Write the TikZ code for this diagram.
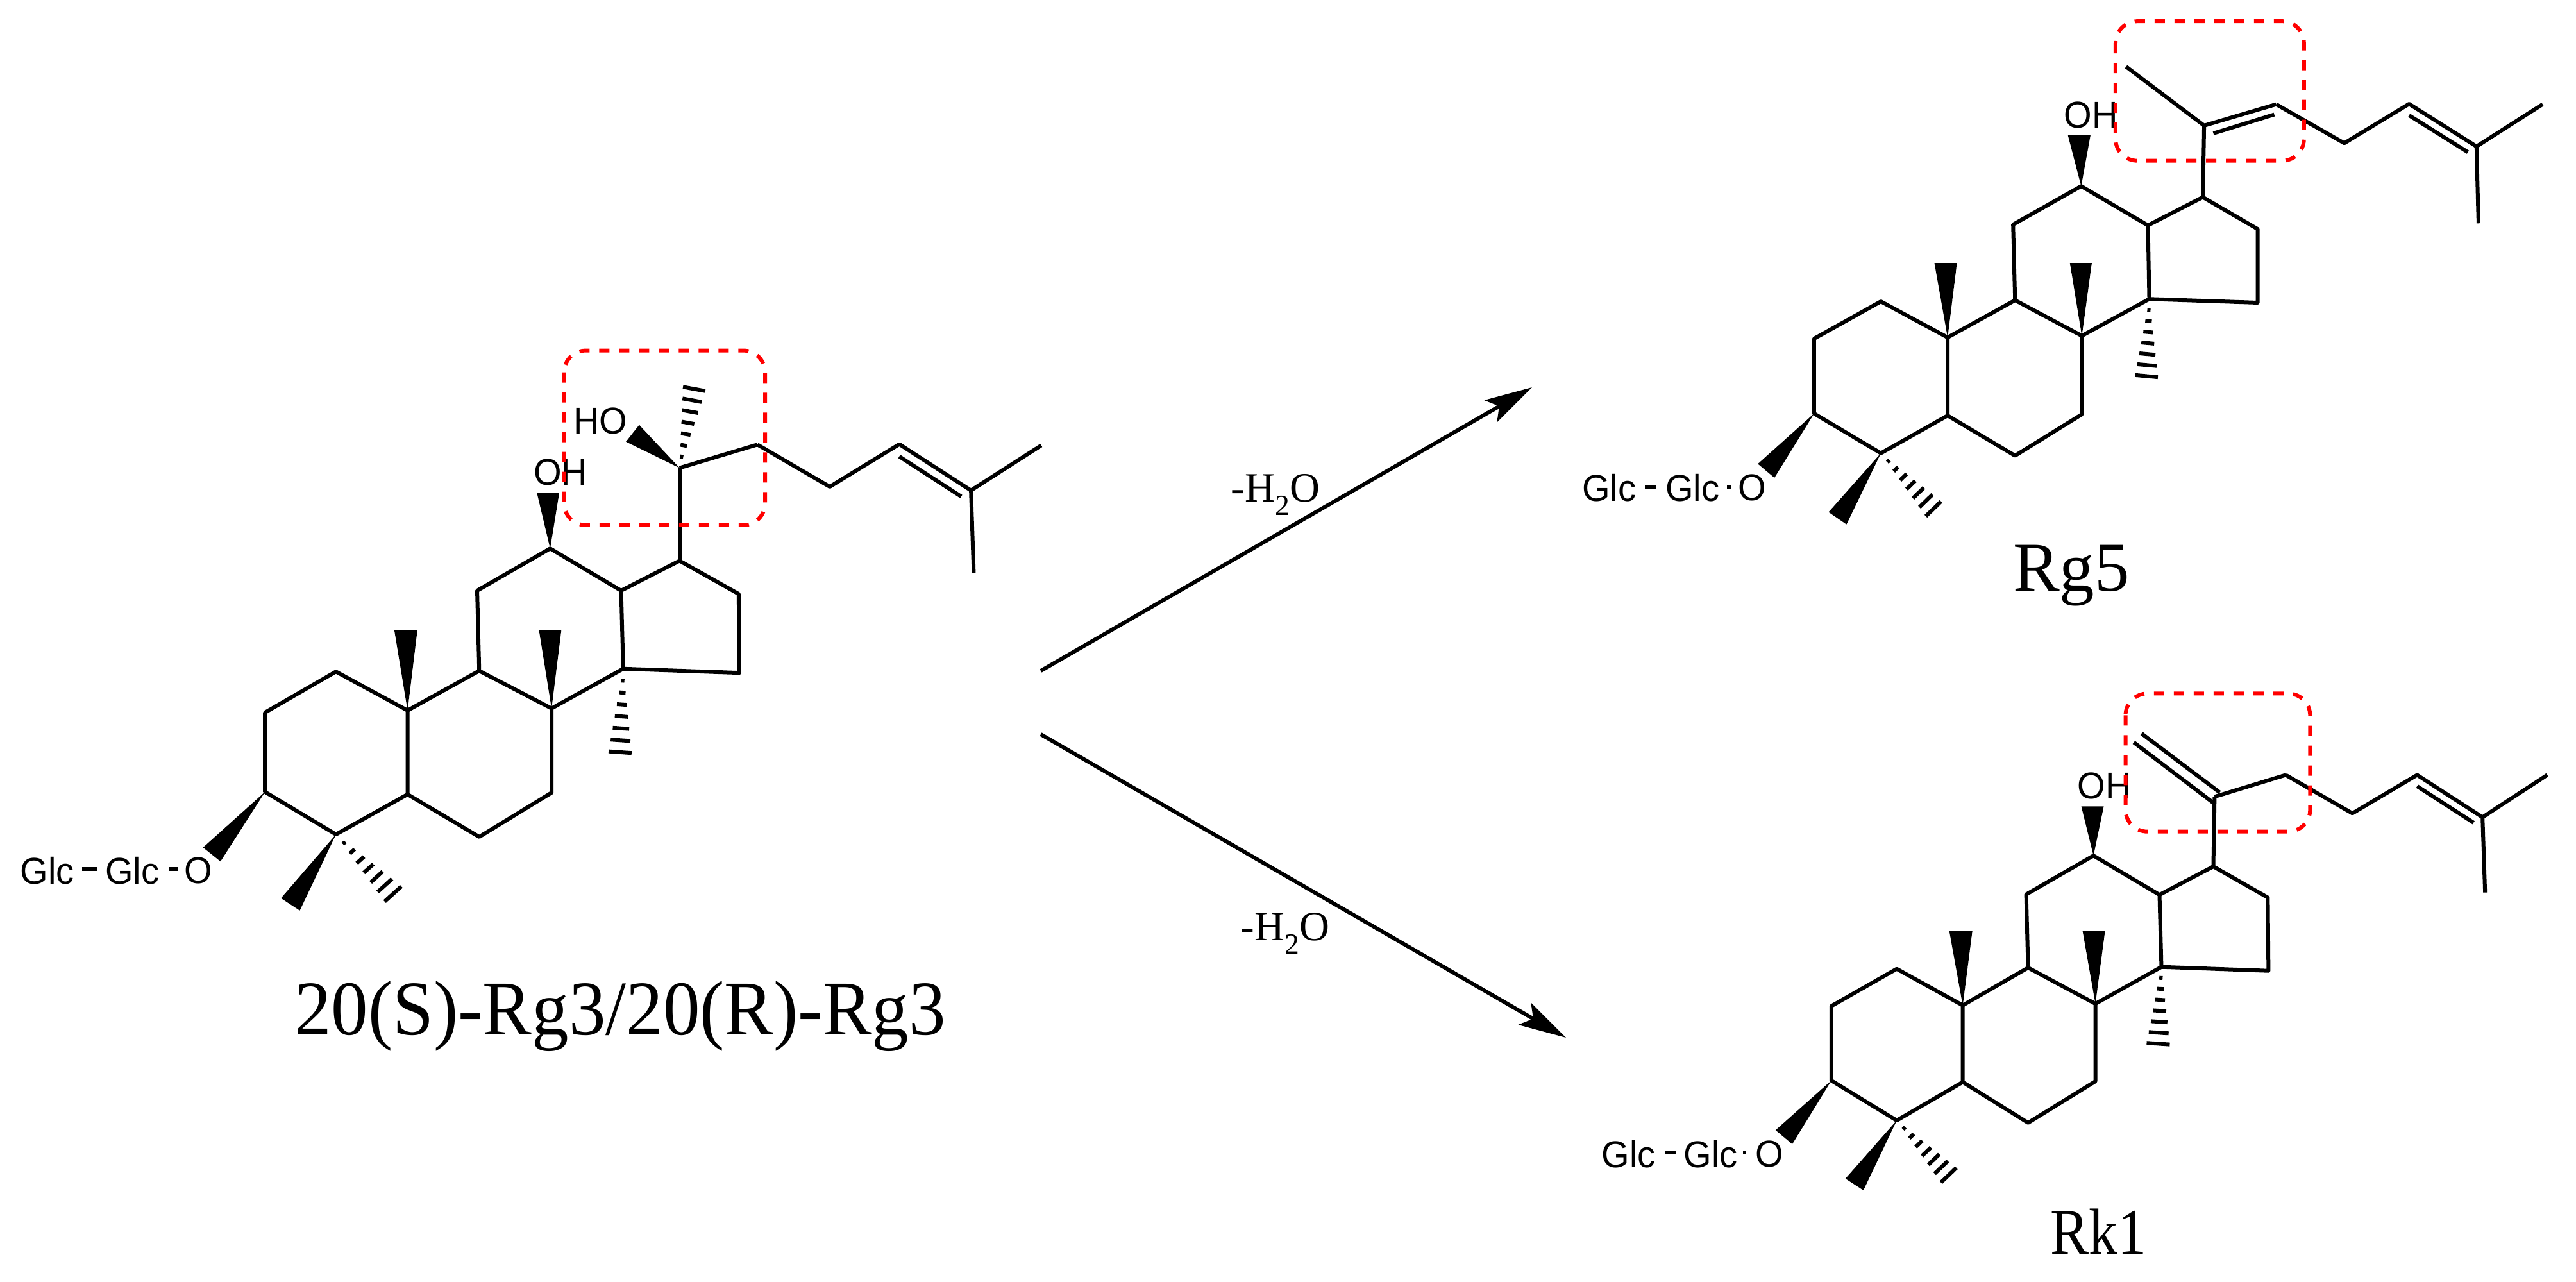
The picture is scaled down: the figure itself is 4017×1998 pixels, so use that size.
\documentclass[tikz,border=0pt]{standalone}
\usepackage{fontspec}
\usepackage{graphicx}
\setmainfont{Liberation Serif}
\newfontfamily\labelsans{Liberation Sans}
\usetikzlibrary{arrows.meta,calc}
\definecolor{boxred}{RGB}{255,0,0}
\newcommand{\tallbox}[2]{\scalebox{1}[#1]{#2}}
\tikzset{
  bond/.style={line width=6pt,line join=round,line cap=butt},
  wedgefill/.style={fill=black,draw=none},
  hashline/.style={line width=6pt},
  atomlabel/.style={font=\labelsans\fontsize{56}{60}\selectfont,inner sep=0pt},
  titlelabel/.style={font=\fontsize{#1}{#1}\selectfont,inner sep=0pt,anchor=base},
  redbox/.style={draw=boxred,line width=6pt,dash pattern=on 16pt off 15pt,rounded corners=34pt},
  reaction/.style={line width=6pt,-{Stealth[length=74pt,width=39pt,inset=15pt]}},
}
% hashed bond: tip, end a, end b, stripes
\newcommand{\hashbond}[4]{%
  \foreach \t in {1,...,#4}{%
    \draw[hashline] ($(#1)!{\t/#4}!(#2)$) -- ($(#1)!{\t/#4}!(#3)$);
  }}
\newcommand{\steroid}{%
  \draw[bond] (a1)--(a2)--(a3)--(a4)--(a5)--(a6)--cycle;
  \draw[bond] (a3)--(b1)--(b2)--(b3)--(b4)--(a4);
  \draw[bond] (b1)--(c1)--(c2)--(c3)--(c4)--(b2);
  \draw[bond] (c3)--(d1)--(d2)--(d3)--(c4);
  \draw[bond] (d1)--(s20);
  \draw[bond] (s22)--(s23)--(s24)--(s25)--(s26);
  \draw[bond] (s25)--(s27);
  \draw[bond] (i24)--(i25);
  \fill[wedgefill] (a3)--(w10a)--(w10b)--cycle;
  \fill[wedgefill] (b2)--(w8a)--(w8b)--cycle;
  \fill[wedgefill] (c2)--(w12a)--(w12b)--cycle;
  \fill[wedgefill] (a6)--(w3a)--(w3b)--cycle;
  \fill[wedgefill] (a5)--(w4a)--(w4b)--cycle;
  \hashbond{a5}{h4a}{h4b}{7}
  \hashbond{c4}{h14a}{h14b}{7}
  \draw[bond] (g1)--(g2);
  \draw[bond] (g3)--(g4);
  \node[atomlabel] (glcA) at (lglc1) {\tallbox{1.04}{Glc}};
  \node[atomlabel] (glcB) at (lglc2) {\tallbox{1.04}{Glc}};
  \node[atomlabel] (oxy) at (lo) {\tallbox{1.04}{O}};
  \node[atomlabel] (oh) at (loh) {\tallbox{1.04}{OH}};
}
\begin{document}
\begin{tikzpicture}[x=1pt,y=-1pt]
\path[use as bounding box] (0,0) rectangle (4017,1998);

% ---------- Rg3 ----------
\begin{scope}[shift={(0,500)},x=1.0846pt,y=-0.6378pt]
\coordinate (a1) at (381,958); \coordinate (a2) at (483,858); \coordinate (a3) at (586,953);
\coordinate (a4) at (586,1158); \coordinate (a5) at (483,1256); \coordinate (a6) at (381,1152);
\coordinate (b1) at (689,856); \coordinate (b2) at (793,948); \coordinate (b3) at (793,1154); \coordinate (b4) at (689,1262);
\coordinate (c1) at (686,660); \coordinate (c2) at (791,557); \coordinate (c3) at (893,660); \coordinate (c4) at (896,851);
\coordinate (d1) at (977,587); \coordinate (d2) at (1062,668); \coordinate (d3) at (1063,861);
\coordinate (s20) at (977,360); \coordinate (s22) at (1089,303); \coordinate (s23) at (1193,406);
\coordinate (s24) at (1293,302); \coordinate (s25) at (1396,415); \coordinate (s26) at (1497,305); \coordinate (s27) at (1400,617);
\coordinate (i24) at (1293,332); \coordinate (i25) at (1382,430);
\coordinate (w10a) at (567,757); \coordinate (w10b) at (600,757);
\coordinate (w8a) at (775,757); \coordinate (w8b) at (807,757);
\coordinate (w12a) at (772,421); \coordinate (w12b) at (804,421);
\coordinate (w3a) at (292,1288); \coordinate (w3b) at (317,1322);
\coordinate (w4a) at (404,1412); \coordinate (w4b) at (431,1442);
\coordinate (h4a) at (553,1420); \coordinate (h4b) at (577,1383);
\coordinate (h14a) at (875,1053); \coordinate (h14b) at (908,1057);
\coordinate (g1) at (118,1340); \coordinate (g2) at (140,1340);
\coordinate (g3) at (243,1340); \coordinate (g4) at (255,1340);
\coordinate (lglc1) at (68,1345); \coordinate (lglc2) at (190,1345); \coordinate (lo) at (285,1345);
\coordinate (loh) at (806,370);
\steroid
\draw[bond] (s20)--(s22);
\coordinate (w20a) at (900,296); \coordinate (w20b) at (919,255);
\coordinate (h20a) at (982,162); \coordinate (h20b) at (1014,172);
\fill[wedgefill] (s20)--(w20a)--(w20b)--cycle;
\hashbond{s20}{h20a}{h20b}{7}
\node[atomlabel] (ho) at (863,245) {\tallbox{1.04}{HO}};
\coordinate (box1a) at (811,73); \coordinate (box1b) at (1100,500);
\draw[redbox] (box1a) rectangle (box1b);
\end{scope}
\node[titlelabel=115] (rg3name) at (967,1613) {\tallbox{1.05}{20(S)-Rg3/20(R)-Rg3}};

% ---------- Rg5 ----------
\begin{scope}[shift={(2400,0)},x=1.0309pt,y=-0.6378pt]
\coordinate (a1) at (416,828); \coordinate (a2) at (517,737); \coordinate (a3) at (618,825);
\coordinate (a4) at (618,1016); \coordinate (a5) at (517,1108); \coordinate (a6) at (416,1011);
\coordinate (b1) at (720,734); \coordinate (b2) at (821,821); \coordinate (b3) at (821,1013); \coordinate (b4) at (720,1114);
\coordinate (c1) at (717,549); \coordinate (c2) at (820,455); \coordinate (c3) at (921,551); \coordinate (c4) at (923,731);
\coordinate (d1) at (1004,482); \coordinate (d2) at (1087,560); \coordinate (d3) at (1087,740);
\coordinate (s20) at (1006,307); \coordinate (s21) at (888,163); \coordinate (s22) at (1115,255); \coordinate (s23) at (1218,350);
\coordinate (s24) at (1316,254); \coordinate (s25) at (1418,358); \coordinate (s26) at (1518,255); \coordinate (s27) at (1421,546);
\coordinate (i24) at (1316,282); \coordinate (i25) at (1405,372);
\coordinate (w10a) at (598,643); \coordinate (w10b) at (632,643);
\coordinate (w8a) at (803,643); \coordinate (w8b) at (836,643);
\coordinate (w12a) at (800,331); \coordinate (w12b) at (834,331);
\coordinate (w3a) at (331,1134); \coordinate (w3b) at (356,1168);
\coordinate (w4a) at (438,1252); \coordinate (w4b) at (465,1282);
\coordinate (h4a) at (585,1262); \coordinate (h4b) at (608,1226);
\coordinate (h14a) at (902,917); \coordinate (h14b) at (936,922);
\coordinate (g1) at (160,1190); \coordinate (g2) at (177,1190);
\coordinate (g3) at (284,1190); \coordinate (g4) at (290,1190);
\coordinate (lglc1) at (106,1192); \coordinate (lglc2) at (232,1192); \coordinate (lo) at (322,1192);
\coordinate (loh) at (835,282);
\steroid
\draw[bond] (s21)--(s20)--(s22);
\coordinate (i20) at (1020,326); \coordinate (i22) at (1112,280);
\draw[bond] (i20)--(i22);
\coordinate (box2a) at (872,52); \coordinate (box2b) at (1157,393);
\draw[redbox] (box2a) rectangle (box2b);
\coordinate (lrg5) at (805,1445);
\node[titlelabel=109] (rg5name) at (lrg5) {Rg5};
\end{scope}

% ---------- Rk1 ----------
\begin{scope}[shift={(2450,1050)},x=0.9994pt,y=-0.6046pt]
\coordinate (a1) at (406,858); \coordinate (a2) at (508,762); \coordinate (a3) at (611,856);
\coordinate (a4) at (611,1054); \coordinate (a5) at (508,1153); \coordinate (a6) at (406,1050);
\coordinate (b1) at (713,759); \coordinate (b2) at (818,852); \coordinate (b3) at (818,1052); \coordinate (b4) at (713,1159);
\coordinate (c1) at (710,570); \coordinate (c2) at (815,470); \coordinate (c3) at (918,571); \coordinate (c4) at (921,757);
\coordinate (d1) at (1002,498); \coordinate (d2) at (1087,578); \coordinate (d3) at (1088,767);
\coordinate (s20) at (1004,318); \coordinate (s22) at (1115,262); \coordinate (s23) at (1219,361);
\coordinate (s24) at (1320,262); \coordinate (s25) at (1422,371); \coordinate (s26) at (1523,262); \coordinate (s27) at (1426,565);
\coordinate (i24) at (1320,291); \coordinate (i25) at (1408,385);
\coordinate (w10a) at (590,664); \coordinate (w10b) at (626,664);
\coordinate (w8a) at (798,664); \coordinate (w8b) at (833,664);
\coordinate (w12a) at (796,343); \coordinate (w12b) at (831,343);
\coordinate (w3a) at (319,1178); \coordinate (w3b) at (345,1214);
\coordinate (w4a) at (428,1303); \coordinate (w4b) at (456,1333);
\coordinate (h4a) at (577,1313); \coordinate (h4b) at (601,1275);
\coordinate (h14a) at (898,953); \coordinate (h14b) at (934,957);
\coordinate (g1) at (147,1236); \coordinate (g2) at (163,1236);
\coordinate (g3) at (268,1236); \coordinate (g4) at (273,1236);
\coordinate (lglc1) at (90,1240); \coordinate (lglc2) at (218,1240); \coordinate (lo) at (309,1240);
\coordinate (loh) at (832,290);
\steroid
\draw[bond] (s20)--(s22);
\coordinate (dbl1a) at (890,155); \coordinate (dbl1b) at (1012,307);
\coordinate (dbl2a) at (878,178); \coordinate (dbl2b) at (1003,335);
\draw[bond] (dbl1a)--(dbl1b);
\draw[bond] (dbl2a)--(dbl2b);
\coordinate (box3a) at (865,52); \coordinate (box3b) at (1153,408);
\draw[redbox] (box3a) rectangle (box3b);
\coordinate (lrk1) at (823,1497);
\node[titlelabel=90] (rk1name) at (lrk1) {\tallbox{1.13}{Rk1}};
\end{scope}

% ---------- reaction arrows ----------
\coordinate (startA) at (1623,1046); \coordinate (endA) at (2389,604);
\coordinate (startB) at (1623,1145); \coordinate (endB) at (2442,1618);
\draw[reaction] (startA) -- (endA);
\draw[reaction] (startB) -- (endB);
\node[titlelabel=65] (waterA) at (1989,782) {-H\textsubscript{2}O};
\node[titlelabel=65] (waterB) at (2004,1466) {-H\textsubscript{2}O};
\end{tikzpicture}
\end{document}
